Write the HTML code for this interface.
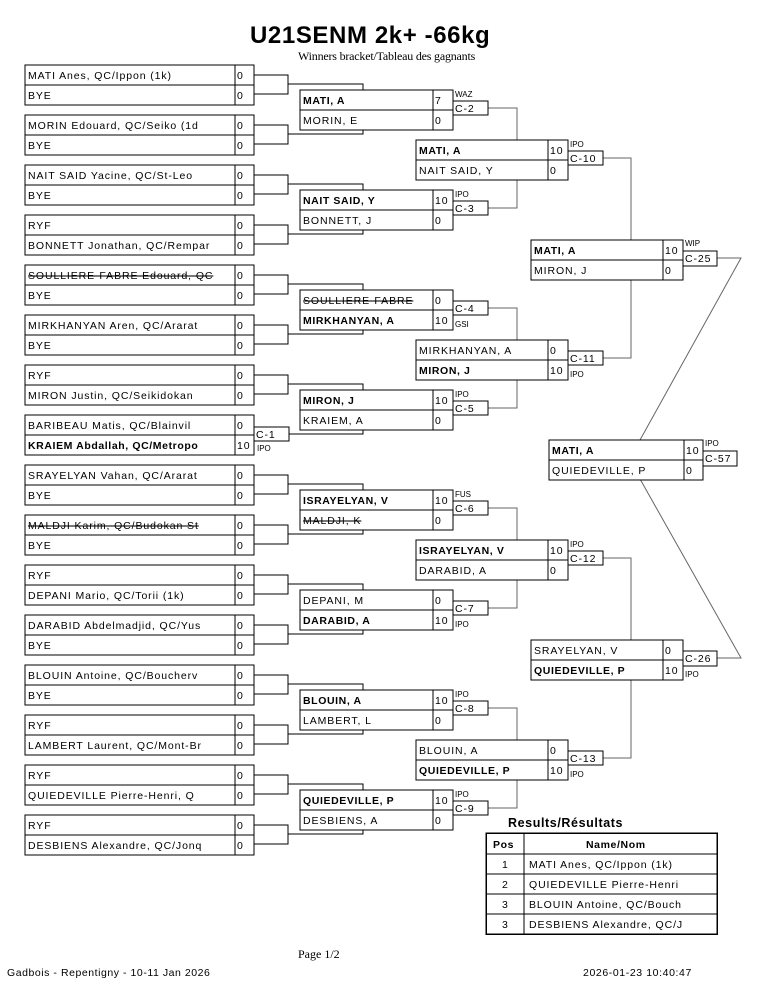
<!DOCTYPE html>
<html><head><meta charset="utf-8"><style>
html,body{margin:0;padding:0;background:#fff;}
svg{display:block;}
text{font-family:"Liberation Sans",Arial,sans-serif;font-size:10.5px;letter-spacing:0.9px;fill:#000;}
.b{font-weight:bold;letter-spacing:0.6px;}
.s{text-decoration:line-through;}
.sm{font-size:8px;letter-spacing:0;}
.bx{fill:#fff;stroke:#000;stroke-width:1;}
.ln{fill:none;stroke:#000;stroke-width:1;}
.gl{fill:none;stroke:#666;stroke-width:1;}
.serif{font-family:"Liberation Serif",serif;letter-spacing:0;}
</style></head><body>
<svg width="765" height="990" viewBox="0 0 765 990" xmlns="http://www.w3.org/2000/svg" shape-rendering="crispEdges">
<text x="250" y="43" class="b" style="font-size:24px;letter-spacing:0.6px">U21SENM 2k+ -66kg</text>
<text x="298" y="60" class="serif" style="font-size:12px;letter-spacing:-0.2px">Winners bracket/Tableau des gagnants</text>

<path class="ln" d="M254 75H288V94H254M288 84H363V90 M254 125H288V144H254M288 134H363V130
M254 175H288V194H254M288 184H363V190 M254 225H288V244H254M288 234H363V230
M254 275H288V294H254M288 284H363V290 M254 325H288V344H254M288 334H363V330
M254 375H288V394H254M288 384H363V390 M289 434H363V430
M254 475H288V494H254M288 484H363V490 M254 525H288V544H254M288 534H363V530
M254 575H288V594H254M288 584H363V590 M254 625H288V644H254M288 634H363V630
M254 675H288V694H254M288 684H363V690 M254 725H288V744H254M288 734H363V730
M254 775H288V794H254M288 784H363V790 M254 825H288V844H254M288 834H363V830"/>
<path class="gl" d="M488 108H517V140 M488 208H517V179 M488 308H517V340 M488 408H517V379
M488 508H517V540 M488 608H517V579 M488 708H517V740 M488 808H517V779
M603 158H631V240 M603 358H631V279 M603 558H631V640 M603 758H631V679"/>
<path class="gl" shape-rendering="auto" d="M717 258H741L640 440 M717 658H741L640 479"/>

<g>
<rect class="bx" x="25" y="65" width="229" height="40"/><path class="ln" d="M25 85H254M235 65V105"/>
<text x="28" y="79">MATI Anes, QC/Ippon (1k)</text><text x="237" y="79">0</text><text x="28" y="99">BYE</text><text x="237" y="99">0</text>
<rect class="bx" x="25" y="115" width="229" height="40"/><path class="ln" d="M25 135H254M235 115V155"/>
<text x="28" y="129">MORIN Edouard, QC/Seiko (1d</text><text x="237" y="129">0</text><text x="28" y="149">BYE</text><text x="237" y="149">0</text>
<rect class="bx" x="25" y="165" width="229" height="40"/><path class="ln" d="M25 185H254M235 165V205"/>
<text x="28" y="179">NAIT SAID Yacine, QC/St-Leo</text><text x="237" y="179">0</text><text x="28" y="199">BYE</text><text x="237" y="199">0</text>
<rect class="bx" x="25" y="215" width="229" height="40"/><path class="ln" d="M25 235H254M235 215V255"/>
<text x="28" y="229">RYF</text><text x="237" y="229">0</text><text x="28" y="249">BONNETT Jonathan, QC/Rempar</text><text x="237" y="249">0</text>
<rect class="bx" x="25" y="265" width="229" height="40"/><path class="ln" d="M25 285H254M235 265V305"/>
<text x="28" y="279" class="s">SOULLIERE-FABRE Edouard, QC</text><text x="237" y="279">0</text><text x="28" y="299">BYE</text><text x="237" y="299">0</text>
<rect class="bx" x="25" y="315" width="229" height="40"/><path class="ln" d="M25 335H254M235 315V355"/>
<text x="28" y="329">MIRKHANYAN Aren, QC/Ararat</text><text x="237" y="329">0</text><text x="28" y="349">BYE</text><text x="237" y="349">0</text>
<rect class="bx" x="25" y="365" width="229" height="40"/><path class="ln" d="M25 385H254M235 365V405"/>
<text x="28" y="379">RYF</text><text x="237" y="379">0</text><text x="28" y="399">MIRON Justin, QC/Seikidokan</text><text x="237" y="399">0</text>
<rect class="bx" x="25" y="415" width="229" height="40"/><path class="ln" d="M25 435H254M235 415V455"/>
<text x="28" y="429">BARIBEAU Matis, QC/Blainvil</text><text x="237" y="429">0</text><text x="28" y="449" class="b">KRAIEM Abdallah, QC/Metropo</text><text x="237" y="449">10</text>
<rect class="bx" x="254" y="427" width="35" height="14"/><text x="256" y="438">C-1</text><text x="257" y="451" class="sm">IPO</text>
<rect class="bx" x="25" y="465" width="229" height="40"/><path class="ln" d="M25 485H254M235 465V505"/>
<text x="28" y="479"> SRAYELYAN Vahan, QC/Ararat</text><text x="237" y="479">0</text><text x="28" y="499">BYE</text><text x="237" y="499">0</text>
<rect class="bx" x="25" y="515" width="229" height="40"/><path class="ln" d="M25 535H254M235 515V555"/>
<text x="28" y="529" class="s">MALDJI Karim, QC/Budokan St</text><text x="237" y="529">0</text><text x="28" y="549">BYE</text><text x="237" y="549">0</text>
<rect class="bx" x="25" y="565" width="229" height="40"/><path class="ln" d="M25 585H254M235 565V605"/>
<text x="28" y="579">RYF</text><text x="237" y="579">0</text><text x="28" y="599">DEPANI Mario, QC/Torii (1k)</text><text x="237" y="599">0</text>
<rect class="bx" x="25" y="615" width="229" height="40"/><path class="ln" d="M25 635H254M235 615V655"/>
<text x="28" y="629">DARABID Abdelmadjid, QC/Yus</text><text x="237" y="629">0</text><text x="28" y="649">BYE</text><text x="237" y="649">0</text>
<rect class="bx" x="25" y="665" width="229" height="40"/><path class="ln" d="M25 685H254M235 665V705"/>
<text x="28" y="679">BLOUIN Antoine, QC/Boucherv</text><text x="237" y="679">0</text><text x="28" y="699">BYE</text><text x="237" y="699">0</text>
<rect class="bx" x="25" y="715" width="229" height="40"/><path class="ln" d="M25 735H254M235 715V755"/>
<text x="28" y="729">RYF</text><text x="237" y="729">0</text><text x="28" y="749">LAMBERT Laurent, QC/Mont-Br</text><text x="237" y="749">0</text>
<rect class="bx" x="25" y="765" width="229" height="40"/><path class="ln" d="M25 785H254M235 765V805"/>
<text x="28" y="779">RYF</text><text x="237" y="779">0</text><text x="28" y="799">QUIEDEVILLE Pierre-Henri, Q</text><text x="237" y="799">0</text>
<rect class="bx" x="25" y="815" width="229" height="40"/><path class="ln" d="M25 835H254M235 815V855"/>
<text x="28" y="829">RYF</text><text x="237" y="829">0</text><text x="28" y="849">DESBIENS Alexandre, QC/Jonq</text><text x="237" y="849">0</text>
</g>

<g>
<rect class="bx" x="300" y="90" width="153" height="40"/><path class="ln" d="M300 110H453M433 90V130"/>
<text x="303" y="104" class="b">MATI, A</text><text x="435" y="104">7</text><text x="303" y="124">MORIN, E</text><text x="435" y="124">0</text>
<rect class="bx" x="453" y="101" width="35" height="14"/><text x="455" y="112">C-2</text><text x="455" y="97" class="sm">WAZ</text>

<rect class="bx" x="300" y="190" width="153" height="40"/><path class="ln" d="M300 210H453M433 190V230"/>
<text x="303" y="204" class="b">NAIT SAID, Y</text><text x="435" y="204">10</text><text x="303" y="224">BONNETT, J</text><text x="435" y="224">0</text>
<rect class="bx" x="453" y="201" width="35" height="14"/><text x="455" y="212">C-3</text><text x="455" y="197" class="sm">IPO</text>

<rect class="bx" x="300" y="290" width="153" height="40"/><path class="ln" d="M300 310H453M433 290V330"/>
<text x="303" y="304" class="s">SOULLIERE-FABRE</text><text x="435" y="304">0</text><text x="303" y="324" class="b">MIRKHANYAN, A</text><text x="435" y="324">10</text>
<rect class="bx" x="453" y="301" width="35" height="14"/><text x="455" y="312">C-4</text><text x="455" y="327" class="sm">GSI</text>

<rect class="bx" x="300" y="390" width="153" height="40"/><path class="ln" d="M300 410H453M433 390V430"/>
<text x="303" y="404" class="b">MIRON, J</text><text x="435" y="404">10</text><text x="303" y="424">KRAIEM, A</text><text x="435" y="424">0</text>
<rect class="bx" x="453" y="401" width="35" height="14"/><text x="455" y="412">C-5</text><text x="455" y="397" class="sm">IPO</text>

<rect class="bx" x="300" y="490" width="153" height="40"/><path class="ln" d="M300 510H453M433 490V530"/>
<text x="303" y="504" class="b">ISRAYELYAN, V</text><text x="435" y="504">10</text><text x="303" y="524" class="s">MALDJI, K</text><text x="435" y="524">0</text>
<rect class="bx" x="453" y="501" width="35" height="14"/><text x="455" y="512">C-6</text><text x="455" y="497" class="sm">FUS</text>

<rect class="bx" x="300" y="590" width="153" height="40"/><path class="ln" d="M300 610H453M433 590V630"/>
<text x="303" y="604">DEPANI, M</text><text x="435" y="604">0</text><text x="303" y="624" class="b">DARABID, A</text><text x="435" y="624">10</text>
<rect class="bx" x="453" y="601" width="35" height="14"/><text x="455" y="612">C-7</text><text x="455" y="627" class="sm">IPO</text>

<rect class="bx" x="300" y="690" width="153" height="40"/><path class="ln" d="M300 710H453M433 690V730"/>
<text x="303" y="704" class="b">BLOUIN, A</text><text x="435" y="704">10</text><text x="303" y="724">LAMBERT, L</text><text x="435" y="724">0</text>
<rect class="bx" x="453" y="701" width="35" height="14"/><text x="455" y="712">C-8</text><text x="455" y="697" class="sm">IPO</text>

<rect class="bx" x="300" y="790" width="153" height="40"/><path class="ln" d="M300 810H453M433 790V830"/>
<text x="303" y="804" class="b">QUIEDEVILLE, P</text><text x="435" y="804">10</text><text x="303" y="824">DESBIENS, A</text><text x="435" y="824">0</text>
<rect class="bx" x="453" y="801" width="35" height="14"/><text x="455" y="812">C-9</text><text x="455" y="797" class="sm">IPO</text>
</g>

<g>
<rect class="bx" x="416" y="140" width="152" height="40"/><path class="ln" d="M416 160H568M548 140V180"/>
<text x="419" y="154" class="b">MATI, A</text><text x="550" y="154">10</text><text x="419" y="174">NAIT SAID, Y</text><text x="550" y="174">0</text>
<rect class="bx" x="568" y="151" width="35" height="14"/><text x="570" y="162">C-10</text><text x="570" y="147" class="sm">IPO</text>

<rect class="bx" x="416" y="340" width="152" height="40"/><path class="ln" d="M416 360H568M548 340V380"/>
<text x="419" y="354">MIRKHANYAN, A</text><text x="550" y="354">0</text><text x="419" y="374" class="b">MIRON, J</text><text x="550" y="374">10</text>
<rect class="bx" x="568" y="351" width="35" height="14"/><text x="570" y="362">C-11</text><text x="570" y="377" class="sm">IPO</text>

<rect class="bx" x="416" y="540" width="152" height="40"/><path class="ln" d="M416 560H568M548 540V580"/>
<text x="419" y="554" class="b">ISRAYELYAN, V</text><text x="550" y="554">10</text><text x="419" y="574">DARABID, A</text><text x="550" y="574">0</text>
<rect class="bx" x="568" y="551" width="35" height="14"/><text x="570" y="562">C-12</text><text x="570" y="547" class="sm">IPO</text>

<rect class="bx" x="416" y="740" width="152" height="40"/><path class="ln" d="M416 760H568M548 740V780"/>
<text x="419" y="754">BLOUIN, A</text><text x="550" y="754">0</text><text x="419" y="774" class="b">QUIEDEVILLE, P</text><text x="550" y="774">10</text>
<rect class="bx" x="568" y="751" width="35" height="14"/><text x="570" y="762">C-13</text><text x="570" y="777" class="sm">IPO</text>
</g>

<g>
<rect class="bx" x="531" y="240" width="152" height="40"/><path class="ln" d="M531 260H683M663 240V280"/>
<text x="534" y="254" class="b">MATI, A</text><text x="665" y="254">10</text><text x="534" y="274">MIRON, J</text><text x="665" y="274">0</text>
<rect class="bx" x="683" y="251" width="34" height="15"/><text x="685" y="262">C-25</text><text x="685" y="246" class="sm">WIP</text>

<rect class="bx" x="531" y="640" width="152" height="40"/><path class="ln" d="M531 660H683M663 640V680"/>
<text x="534" y="654"> SRAYELYAN, V</text><text x="665" y="654">0</text><text x="534" y="674" class="b">QUIEDEVILLE, P</text><text x="665" y="674">10</text>
<rect class="bx" x="683" y="651" width="34" height="15"/><text x="685" y="662">C-26</text><text x="685" y="677" class="sm">IPO</text>
</g>

<rect class="bx" x="549" y="440" width="154" height="40"/><path class="ln" d="M549 460H703M684 440V480"/>
<text x="552" y="454" class="b">MATI, A</text><text x="686" y="454">10</text><text x="552" y="474">QUIEDEVILLE, P</text><text x="686" y="474">0</text>
<rect class="bx" x="703" y="451" width="34" height="15"/><text x="705" y="462">C-57</text><text x="705" y="446" class="sm">IPO</text>

<text x="508" y="827" class="b" style="font-size:12.5px;letter-spacing:0.6px">Results/Résultats</text>
<rect x="486" y="833" width="231" height="101" fill="#fff" stroke="#000" stroke-width="1.5"/>
<path class="ln" d="M486 854H717M486 874H717M486 894H717M486 914H717M524 833V934"/>
<text x="493" y="848" class="b">Pos</text><text x="586" y="848" class="b">Name/Nom</text>
<text x="502" y="868">1</text><text x="529" y="868">MATI Anes, QC/Ippon (1k)</text>
<text x="502" y="888">2</text><text x="529" y="888">QUIEDEVILLE Pierre-Henri</text>
<text x="502" y="908">3</text><text x="529" y="908">BLOUIN Antoine, QC/Bouch</text>
<text x="502" y="928">3</text><text x="529" y="928">DESBIENS Alexandre, QC/J</text>

<text x="298" y="958" class="serif" style="font-size:12px">Page 1/2</text>
<text x="7" y="976" style="font-size:10.5px;letter-spacing:0.55px">Gadbois - Repentigny - 10-11 Jan 2026</text>
<text x="583" y="976" style="font-size:10.5px;letter-spacing:0.6px">2026-01-23 10:40:47</text>
</svg>
</body></html>
